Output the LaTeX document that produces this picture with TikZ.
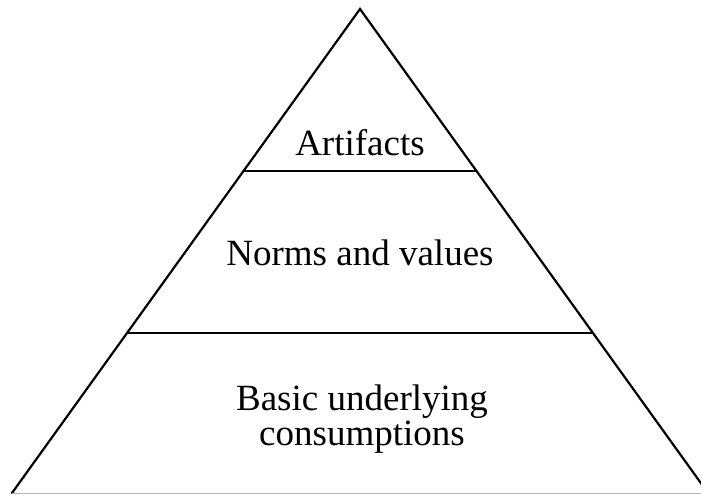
\documentclass[tikz,border=0pt]{standalone}
\usepackage{fontspec}
\setmainfont{Liberation Serif}
\usetikzlibrary{calc,positioning}

\begin{document}
\begin{tikzpicture}[x=1pt,y=-1pt]
	\tikzstyle{edge} = [line width=2.2pt, line cap=round, line join=miter]
	\tikzstyle{layer} = [font=\fontsize{37}{35}\selectfont, align=center, anchor=base, inner sep=0pt]
	\useasboundingbox (0,0) rectangle (701,495);
	
	\coordinate (apex) at (360,9);
	\coordinate (bl) at (12,493);
	\coordinate (br) at (708,493);
	\coordinate (a1) at ($(apex)!0.3347!(bl)$);
	\coordinate (a2) at ($(apex)!0.3347!(br)$);
	\coordinate (n1) at ($(apex)!0.6694!(bl)$);
	\coordinate (n2) at ($(apex)!0.6694!(br)$);
	
	\node [layer] (artifacts) at (360,155) {Artifacts};
	\node [layer] (norms) at (360,265) {Norms and values};
	\node [layer] (basic) at (362,445) {Basic underlying\\consumptions};
	
	\draw [edge] (bl) -- (apex) -- (br);
	\draw [line width=1pt, gray!60] (bl) -- (br);
	\draw [edge] (a1) -- (a2);
	\draw [edge] (n1) -- (n2);
	
\end{tikzpicture}
\end{document}
